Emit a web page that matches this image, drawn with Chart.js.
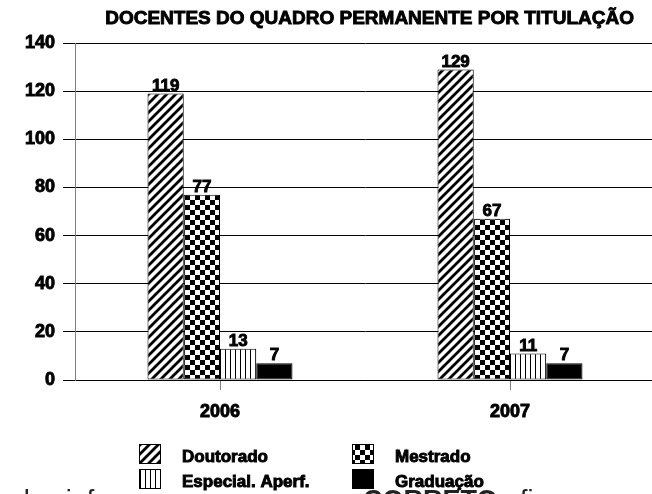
<!DOCTYPE html>
<html>
<head>
<meta charset="utf-8">
<script src="https://cdn.jsdelivr.net/npm/chart.js@4"></script>
<style>
  html, body { margin: 0; padding: 0; background: #fff; overflow: hidden; }
  #wrap { width: 656px; height: 494px; }
</style>
</head>
<body>
<div id="wrap"><canvas id="chart" width="656" height="494"></canvas></div>
<script>
/* ================================
   Data
================================ */
const categories = ['2006', '2007'];
const doutorado = [119, 129];
const mestrado = [77, 67];
const especial = [13, 11];
const graduacao = [7, 7];
const yTicks = [0, 20, 40, 60, 80, 100, 120, 140];

const seriesNames = ['Doutorado', 'Mestrado', 'Especial. Aperf.', 'Graduação'];
const titleText = 'DOCENTES DO QUADRO PERMANENTE POR TITULAÇÃO';

const FONT = '"Liberation Sans", Arial, sans-serif';
const HEAVY = 0.9; // extra stroke so the bold text looks as dark as the scan

/* ================================
   Fill patterns
================================ */
function makePattern(kind) {
  const c = document.createElement('canvas');
  const ctx = c.getContext('2d');
  if (kind === 'diagonal') {
    const s = 9;
    c.width = s; c.height = s;
    ctx.fillStyle = '#fff';
    ctx.fillRect(0, 0, s, s);
    ctx.strokeStyle = '#000';
    ctx.lineWidth = 2.8;
    ctx.beginPath();
    ctx.moveTo(-2, s + 2); ctx.lineTo(s + 2, -2);
    ctx.moveTo(-s - 2, s + 2); ctx.lineTo(2, -2);
    ctx.moveTo(s - 2, s + 2); ctx.lineTo(2 * s + 2, -2);
    ctx.stroke();
  } else if (kind === 'checker') {
    c.width = 10; c.height = 10;
    ctx.fillStyle = '#fff';
    ctx.fillRect(0, 0, 10, 10);
    ctx.fillStyle = '#000';
    ctx.fillRect(0, 0, 5, 5);
    ctx.fillRect(5, 5, 5, 5);
  } else if (kind === 'vertical') {
    c.width = 5; c.height = 5;
    ctx.fillStyle = '#fff';
    ctx.fillRect(0, 0, 5, 5);
    ctx.fillStyle = '#000';
    ctx.fillRect(0, 0, 1, 5);
  }
  return document.getElementById('chart').getContext('2d').createPattern(c, 'repeat');
}

const fills = [makePattern('diagonal'), makePattern('checker'), makePattern('vertical'), '#000'];

function heavyText(ctx, text, x, y) {
  ctx.fillText(text, x, y);
  ctx.lineWidth = HEAVY;
  ctx.strokeStyle = ctx.fillStyle;
  ctx.strokeText(text, x, y);
}

/* ================================
   Plugins
================================ */
// caption text from the page underneath, cut at the bottom edge
const captionPlugin = {
  id: 'caption',
  beforeDraw(chart) {
    const ctx = chart.ctx;
    ctx.save();
    ctx.fillStyle = '#222';
    ctx.textBaseline = 'alphabetic';
    ctx.textAlign = 'left';
    const prefix = 'dados informados no gráfico, é ';
    ctx.font = 'normal 27px ' + FONT;
    let x = 363 - ctx.measureText(prefix).width; // "CORRETO" starts near x=363
    const parts = [
      [prefix, 'normal'],
      ['CORRETO', 'bold'],
      [' afirmar que', 'normal']
    ];
    parts.forEach(([t, w]) => {
      ctx.font = w + ' 27px ' + FONT;
      ctx.fillText(t, x, 509);
      x += ctx.measureText(t).width;
    });
    ctx.restore();
  }
};

// value labels over bars
const valueLabels = {
  id: 'valueLabels',
  afterDatasetsDraw(chart) {
    const ctx = chart.ctx;
    ctx.save();
    ctx.font = 'bold 17px ' + FONT;
    ctx.fillStyle = '#000';
    ctx.textAlign = 'center';
    ctx.textBaseline = 'bottom';
    chart.data.datasets.forEach((ds, i) => {
      chart.getDatasetMeta(i).data.forEach((bar, j) => {
        heavyText(ctx, ds.data[j], bar.x, bar.y + 1);
      });
    });
    ctx.restore();
  }
};

// title + two-column legend
const titleLegend = {
  id: 'titleLegend',
  afterDraw(chart) {
    const ctx = chart.ctx;
    ctx.save();
    ctx.fillStyle = '#000';
    ctx.font = 'bold 19px ' + FONT;
    ctx.textAlign = 'right';
    ctx.textBaseline = 'middle';
    heavyText(ctx, titleText, 634, 19);

    // white backing behind the left legend column, bottom row
    ctx.fillStyle = '#fff';
    ctx.fillRect(134, 466, 218, 28);

    const cols = [139, 352];
    const rows = [444, 469];
    ctx.font = 'bold 17px ' + FONT;
    ctx.textAlign = 'left';
    chart.data.datasets.forEach((ds, i) => {
      const x = cols[i % 2];
      const y = rows[Math.floor(i / 2)];
      ctx.fillStyle = ds.backgroundColor;
      ctx.fillRect(x, y, 22, 20);
      ctx.strokeStyle = '#000';
      ctx.lineWidth = 1;
      ctx.strokeRect(x + 0.5, y + 0.5, 21, 19);
      ctx.fillStyle = '#000';
      heavyText(ctx, ds.label, x + 43, y + 13);
    });
    ctx.restore();
  }
};

/* ================================
   Chart
================================ */
const seriesData = [doutorado, mestrado, especial, graduacao];
const tickFont = size => ({ family: FONT, size: size, weight: 'bold' });

new Chart(document.getElementById('chart'), {
  type: 'bar',
  data: {
    labels: categories,
    datasets: seriesData.map((vals, i) => ({
      label: seriesNames[i],
      data: vals,
      backgroundColor: fills[i],
      borderColor: '#000',
      borderWidth: 1,
      borderSkipped: false,
      categoryPercentage: 0.5,
      barPercentage: 1
    }))
  },
  options: {
    responsive: false,
    animation: false,
    layout: { padding: { top: 43, right: 1, left: 0, bottom: 0 } },
    plugins: {
      legend: { display: false },
      title: { display: false },
      tooltip: { enabled: false }
    },
    scales: {
      x: {
        grid: {
          display: true,
          drawOnChartArea: false,
          offset: false,
          color: '#808080',
          tickLength: 10
        },
        border: { color: '#000', width: 1 },
        ticks: {
          color: '#000', font: tickFont(18), padding: 11,
          textStrokeColor: '#000', textStrokeWidth: HEAVY
        },
        afterFit(scale) { scale.height = 114; }
      },
      y: {
        min: 0,
        max: 140,
        afterBuildTicks(scale) { scale.ticks = yTicks.map(v => ({ value: v })); },
        grid: { color: '#000', tickLength: 12 },
        border: { color: '#808080', width: 1 },
        ticks: {
          color: '#000', font: tickFont(18), padding: 8,
          textStrokeColor: '#000', textStrokeWidth: HEAVY
        },
        afterFit(scale) { scale.width = 75; }
      }
    }
  },
  plugins: [captionPlugin, valueLabels, titleLegend]
});
</script>
</body>
</html>
